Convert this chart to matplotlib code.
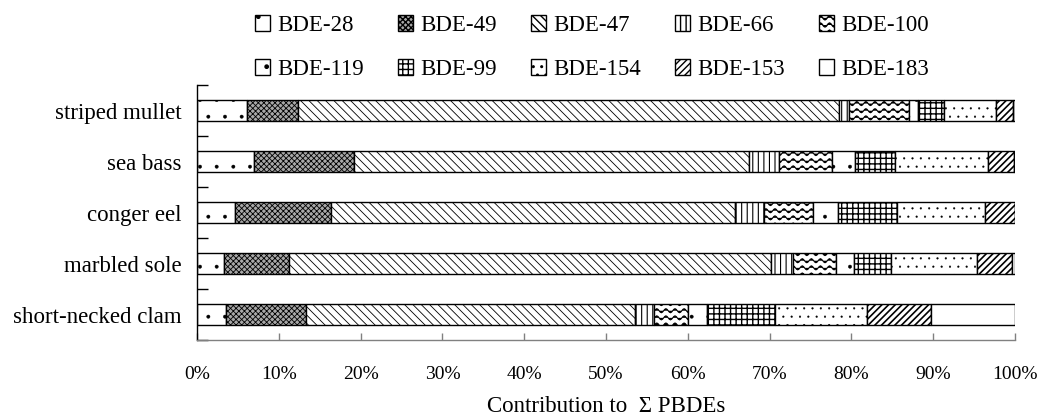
import warnings
import numpy as np
import matplotlib
matplotlib.use("Agg")
import matplotlib.pyplot as plt
import matplotlib.hatch as mhatch
from matplotlib.path import Path
from matplotlib.ticker import PercentFormatter, FixedLocator

warnings.filterwarnings("ignore")

species = ["striped mullet", "sea bass", "conger eel", "marbled sole", "short-necked clam"]
congeners = ["BDE-28", "BDE-49", "BDE-47", "BDE-66", "BDE-100",
             "BDE-119", "BDE-99", "BDE-154", "BDE-153", "BDE-183"]

# cumulative share (%), one list per species
striped_mullet = [6.1, 12.4, 78.5, 79.7, 87.1, 88.2, 91.3, 97.7, 99.8, 100.0]
sea_bass = [7.0, 19.2, 67.5, 71.2, 77.6, 80.4, 85.3, 96.7, 99.9, 100.0]
conger_eel = [4.6, 16.4, 65.8, 69.3, 75.3, 78.4, 85.6, 96.3, 100.0, 100.0]
marbled_sole = [3.3, 11.3, 70.2, 72.9, 78.1, 80.3, 84.9, 95.4, 99.6, 100.0]
short_necked_clam = [3.5, 13.3, 53.5, 55.9, 60.0, 62.4, 70.7, 81.9, 89.7, 100.0]

hatches = [".", "xxxxxx", "\\\\\\\\", "|||", "~", ".", "+++", "..", "/////", ""]
hatch_lw = [0.3, 0.6, 0.6, 0.8, 0.8, 0.3, 1.0, 0.3, 1.2, 0.6]
faces = ["white", "#a8a8a8", "white", "white", "white",
         "white", "white", "white", "white", "white"]


class WaveHatch(mhatch.HatchPatternBase):
    # wavy horizontal lines, triggered by '~'
    steps = 88

    def __init__(self, hatch, density):
        self.num_lines = 14 * hatch.count("~")
        self.num_vertices = self.num_lines * (self.steps + 1)

    def set_vertices_and_codes(self, vertices, codes):
        xs = np.linspace(0, 1, self.steps + 1)
        k = 0
        for i in range(self.num_lines):
            y0 = (i + 0.5) / self.num_lines
            vertices[k:k + self.steps + 1, 0] = xs
            vertices[k:k + self.steps + 1, 1] = y0 + 0.02 * np.sin(2 * np.pi * 11 * xs)
            codes[k] = Path.MOVETO
            codes[k + 1:k + self.steps + 1] = Path.LINETO
            k += self.steps + 1


mhatch._hatch_types.append(WaveHatch)

plt.rcParams["font.family"] = ["Liberation Serif", "DejaVu Serif"]
plt.rcParams["font.size"] = 16.5

cum = np.array([striped_mullet, sea_bass, conger_eel, marbled_sole, short_necked_clam])
shares = np.diff(np.hstack([np.zeros((len(species), 1)), cum]), axis=1)

fig = plt.figure(figsize=(10.38, 4.19), dpi=100)
ax = fig.add_axes([0.1898, 0.1885, 0.9778 - 0.1898, 0.7971 - 0.1885])

ypos = np.arange(len(species))[::-1]
left = np.zeros(len(species))
bars = []
for j, name in enumerate(congeners):
    with plt.rc_context({"hatch.linewidth": hatch_lw[j]}):
        b = ax.barh(ypos, shares[:, j], left=left, height=0.41, color=faces[j],
                    edgecolor="black", linewidth=1.0, hatch=hatches[j], label=name)
    bars.append(b)
    left = left + shares[:, j]

ax.set_xlim(0, 100)
ax.set_ylim(-0.5, len(species) - 0.5)
ax.xaxis.set_major_locator(FixedLocator(np.arange(0, 101, 10)))
ax.xaxis.set_major_formatter(PercentFormatter(decimals=0))
ax.set_yticks(ypos)
ax.set_yticklabels(species)
ax.yaxis.set_minor_locator(FixedLocator(np.arange(-0.5, len(species), 1.0)))

ax.tick_params(axis="y", which="major", length=0, pad=11)
ax.tick_params(axis="y", which="minor", direction="in", length=8, width=1, color="black")
ax.tick_params(axis="x", direction="in", length=5, width=1, color="#808080",
               pad=18.5, labelsize=14)

for s in ["top", "right"]:
    ax.spines[s].set_visible(False)
ax.spines["left"].set_color("black")
ax.spines["left"].set_linewidth(1.0)
ax.spines["bottom"].set_color("#808080")
ax.spines["bottom"].set_linewidth(1.0)

ax.set_xlabel("Contribution to  \u03a3 PBDEs", labelpad=9.5)

# legend: row 1 = first five, row 2 = last five (column-major ordering)
order = [0, 5, 1, 6, 2, 7, 3, 8, 4, 9]
fig.legend([bars[i] for i in order], [congeners[i] for i in order],
           ncol=5, frameon=False, loc="upper left",
           bbox_to_anchor=(255 / 1038, 1 - 15 / 419),
           borderpad=0, borderaxespad=0, handlelength=0.66, handleheight=0.66,
           handletextpad=0.3, columnspacing=1.5, labelspacing=1.0)

fig.savefig("out.png", dpi=100)
